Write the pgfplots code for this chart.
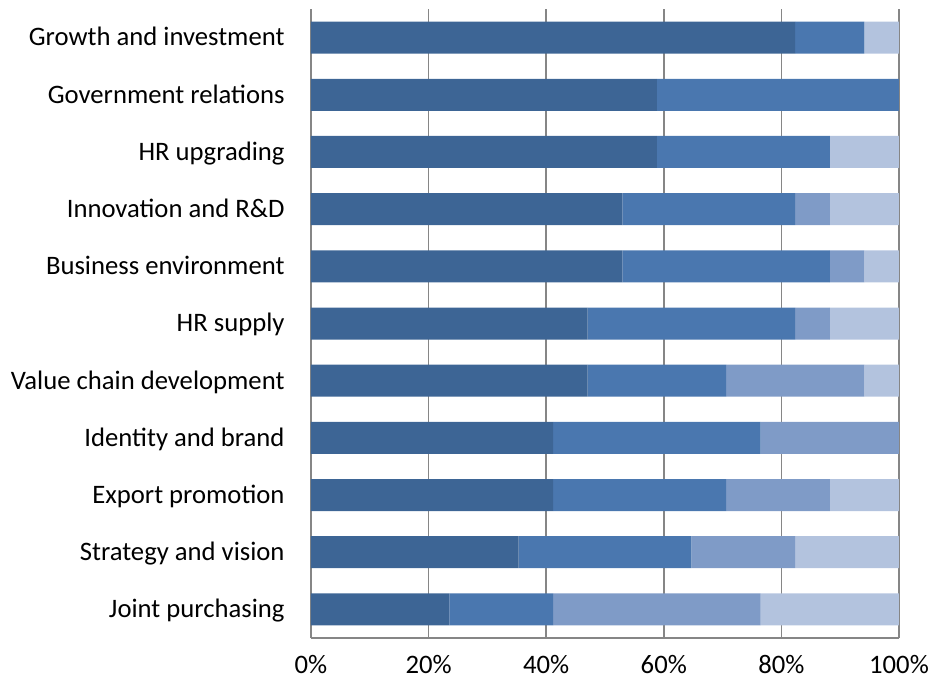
\documentclass[border=0pt]{standalone}
\usepackage{pgfplots}
\pgfplotsset{compat=1.18}
\usepackage{pgfplotstable}
\usepackage{fontspec}
\setmainfont{Carlito}
\definecolor{cA}{HTML}{3D6595}
\definecolor{cB}{HTML}{4A77AF}
\definecolor{cC}{HTML}{7F9BC7}
\definecolor{cD}{HTML}{B3C3DE}
\definecolor{gridg}{HTML}{868686}
\pgfplotstableread{
idx a b c d
0 82.35 11.76 0 5.88
1 58.82 41.18 0 0
2 58.82 29.41 0 11.76
3 52.94 29.41 5.88 11.76
4 52.94 35.29 5.88 5.88
5 47.06 35.29 5.88 11.76
6 47.06 23.53 23.53 5.88
7 41.18 35.29 23.53 0
8 41.18 29.41 17.65 11.76
9 35.29 29.41 17.65 17.65
10 23.53 17.65 35.29 23.53
}\datatable
\begin{document}
\fontsize{20pt}{24pt}\selectfont
\begin{tikzpicture}
\useasboundingbox (-233.25pt,-33pt) rectangle (465.75pt,478.5pt);
\begin{axis}[
  name=ax,
  at={(0,0)}, anchor=south west,
  scale only axis,
  width=441pt, height=471.75pt,
  xbar stacked,
  bar width=24pt,
  xmin=0, xmax=100,
  ymin=0, ymax=10,
  enlarge y limits={abs=0.5},
  y dir=reverse,
  xtick={0,20,40,60,80,100},
  xticklabel={\pgfmathprintnumber{\tick}\%},
  /pgf/number format/assume math mode=true,
  ytick={0,...,10},
  yticklabels={Growth and investment,Government relations,HR upgrading,Innovation and R\&D,Business environment,HR supply,Value chain development,Identity and brand,Export promotion,Strategy and vision,Joint purchasing},
  typeset ticklabels with strut,
  major tick length=0pt,
  xmajorgrids,
  grid style={draw=gridg, line width=1.1pt},
  axis lines*=left,
  axis line style={draw=gridg, line width=1.1pt},
  yticklabel style={xshift=-13pt, yshift=-1.5pt, font=\fontsize{20pt}{24pt}\selectfont},
  xticklabel style={yshift=-6pt, font=\fontsize{20pt}{24pt}\selectfont},
  every axis plot/.append style={draw=none},
  clip=false,
]
\addplot[fill=cA] table[x=a, y=idx] {\datatable};
\addplot[fill=cB] table[x=b, y=idx] {\datatable};
\addplot[fill=cC] table[x=c, y=idx] {\datatable};
\addplot[fill=cD] table[x=d, y=idx] {\datatable};
\end{axis}
\end{tikzpicture}
\end{document}
